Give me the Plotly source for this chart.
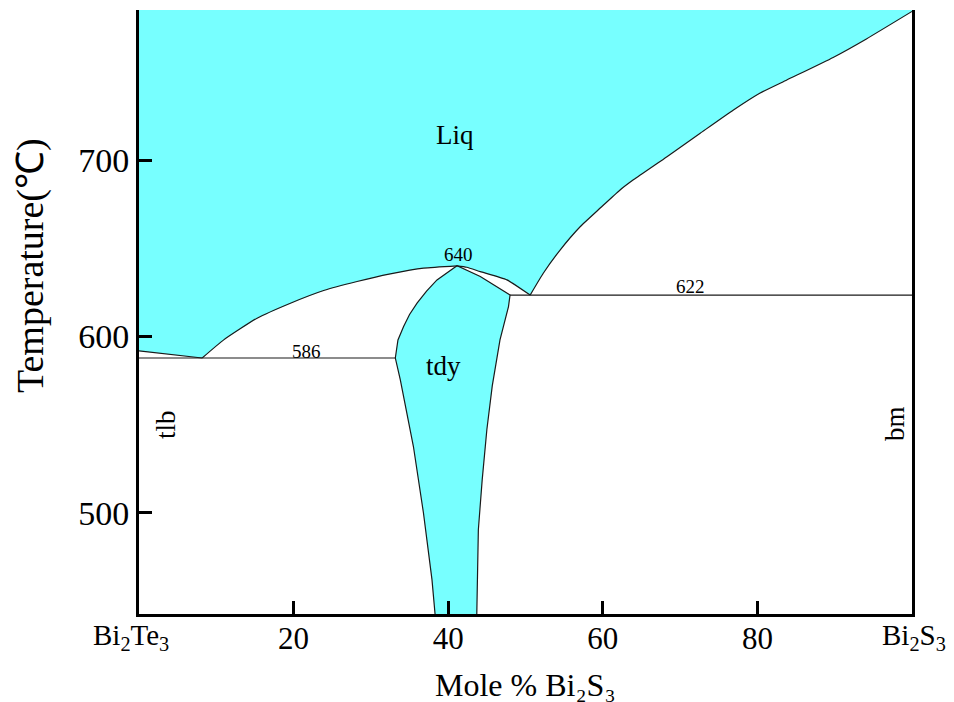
import plotly.graph_objects as go

# ---------------- data (mole % Bi2S3, temperature in degC) ----------------
x_range = [0, 100]
T_range = [442.6, 785.2]

# liquidus, Bi2Te3 side (tlb) down to eutectic
liq_tlb_x = [0, 8.17]
liq_tlb_T = [591.8, 587.8]
# liquidus from eutectic up to the tdy congruent maximum
liq_mid_x = [8.17, 10.96, 15.28, 19.59, 23.89, 28.21, 32.51, 36.82, 41.14]
liq_mid_T = [587.8, 598.1, 610.4, 618.9, 626.1, 631.2, 635.5, 638.8, 640.1]
# liquidus from maximum down to the 622 eutectic
liq_arc_x = [41.14, 42.4, 44.15, 47.6, 50.6]
liq_arc_T = [640.1, 639.3, 636.8, 632.1, 623.5]
# liquidus, Bi2S3 side (bm)
liq_bm_x = [50.6, 52.3, 54.5, 57.1, 59.7, 62.2, 64.0, 68.3, 72.6, 76.9, 80.3, 83.8, 89.8, 94.1, 100]
liq_bm_T = [623.5, 635.9, 649.2, 662.4, 673.0, 683.0, 689.0, 702.0, 715.3, 728.5, 738.0, 745.5, 758.3, 768.8, 784.4]

# tdy solid-solution field
tdy_left_x = [38.3, 37.9, 36.8, 35.5, 33.8, 33.16, 33.5, 34.23, 35.0, 35.97, 37.2, 38.55, 41.14]
tdy_left_T = [442.6, 462.1, 499.9, 537.6, 575.5, 587.8, 598.0, 605.7, 612.5, 618.9, 625.8, 632.1, 640.1]
tdy_right_x = [41.14, 44.15, 48.0, 47.8, 46.7, 45.7, 45.0, 44.4, 43.9, 43.7]
tdy_right_T = [640.1, 634.0, 623.5, 617.0, 598.1, 572.0, 547.1, 518.8, 490.4, 442.6]

# invariant (eutectic) lines
eut1_x = [0, 33.16]
eut1_T = [587.8, 587.8]
eut2_x = [48.0, 100]
eut2_T = [623.5, 623.5]

# labels
x_tickvals = [0, 20, 40, 60, 80, 100]
x_ticktext = ["", "20", "40", "60", "80", ""]
end_labels = ["Bi<sub>2</sub>Te<sub>3</sub>", "Bi<sub>2</sub>S<sub>3</sub>"]
y_tickvals = [500, 600, 700]
phase_labels = ["Liq", "tdy", "tlb", "bm"]
phase_label_x = [40.9, 39.4, 3.4, 97.8]
phase_label_T = [714.2, 583.5, 550, 551]
inv_labels = ["640", "586", "622"]
inv_label_x = [41.3, 21.7, 71.3]
inv_label_T = [646.4, 591.5, 628.2]

CYAN = "rgb(119,255,255)"
LINE = "#1a1a1a"
FONT = "Liberation Serif"

fig = go.Figure()

# liquid field polygon
liq_poly_x = [0] + liq_tlb_x + liq_mid_x[1:] + liq_arc_x[1:] + liq_bm_x[1:] + [100, 0]
liq_poly_T = [T_range[1]] + liq_tlb_T + liq_mid_T[1:] + liq_arc_T[1:] + liq_bm_T[1:] + [T_range[1], T_range[1]]
fig.add_trace(go.Scatter(x=liq_poly_x, y=liq_poly_T, fill="toself", fillcolor=CYAN,
                         mode="lines", line=dict(width=0), hoverinfo="skip", showlegend=False))

# tdy field polygon
tdy_x = tdy_left_x + tdy_right_x[1:]
tdy_T = tdy_left_T + tdy_right_T[1:]
fig.add_trace(go.Scatter(x=tdy_x, y=tdy_T, fill="toself", fillcolor=CYAN,
                         mode="lines", line=dict(width=1.2, color=LINE),
                         hoverinfo="skip", showlegend=False))

# boundary lines
for xs, ts in [(liq_tlb_x, liq_tlb_T), (liq_mid_x, liq_mid_T), (liq_arc_x, liq_arc_T),
               (liq_bm_x, liq_bm_T)]:
    fig.add_trace(go.Scatter(x=xs, y=ts, mode="lines",
                             line=dict(width=1.2, color=LINE, shape="spline", smoothing=0.5),
                             hoverinfo="skip", showlegend=False))
for xs, ts in [(eut1_x, eut1_T), (eut2_x, eut2_T)]:
    fig.add_trace(go.Scatter(x=xs, y=ts, mode="lines", line=dict(width=1.2, color=LINE),
                             hoverinfo="skip", showlegend=False))

# phase labels
for t, xx, yy in zip(phase_labels, phase_label_x, phase_label_T):
    ang = -90 if t in ("tlb", "bm") else 0
    fig.add_annotation(x=xx, y=yy, text=t, showarrow=False, textangle=ang,
                       font=dict(family=FONT, size=27, color="black"))
for t, xx, yy in zip(inv_labels, inv_label_x, inv_label_T):
    fig.add_annotation(x=xx, y=yy, text=t, showarrow=False,
                       font=dict(family=FONT, size=19, color="black"))

# end-member labels on the x axis
fig.add_annotation(xref="paper", yref="paper", x=-0.0103, y=-0.038, text=end_labels[0],
                   showarrow=False, xanchor="center", yanchor="middle",
                   font=dict(family=FONT, size=29, color="black"))
fig.add_annotation(xref="paper", yref="paper", x=1.003, y=-0.038, text=end_labels[1],
                   showarrow=False, xanchor="center", yanchor="middle",
                   font=dict(family=FONT, size=29, color="black"))

# axis titles
fig.add_annotation(xref="paper", yref="paper", x=-0.141, y=0.576, text="Temperature(℃)",
                   textangle=-90, showarrow=False, xanchor="center", yanchor="middle",
                   font=dict(family=FONT, size=38, color="black"))
fig.add_annotation(xref="paper", yref="paper", x=0.5, y=-0.1175,
                   text="Mole % Bi₂S₃",
                   showarrow=False, xanchor="center", yanchor="middle",
                   font=dict(family=FONT, size=32, color="black"))

# page body has an 8px margin: shrink the figure so the plot lands where it should
fig.update_layout(
    width=946, height=694,
    margin=dict(l=131, r=42, t=2, b=88),
    paper_bgcolor="white", plot_bgcolor="white",
    font=dict(family=FONT, color="black"),
    xaxis=dict(range=x_range, showgrid=False, zeroline=False, showline=True, linewidth=3,
               linecolor="black", ticks="inside", ticklen=13, tickwidth=3, tickcolor="black",
               tickvals=x_tickvals, ticktext=x_ticktext, ticklabelstandoff=-5,
               tickfont=dict(family=FONT, size=31)),
    yaxis=dict(range=T_range, showgrid=False, zeroline=False, showline=True, linewidth=3,
               linecolor="black", mirror=True, ticks="inside", ticklen=13, tickwidth=3,
               tickcolor="black", tickvals=y_tickvals, tickfont=dict(family=FONT, size=34)),
)

fig.write_html("out.html")
